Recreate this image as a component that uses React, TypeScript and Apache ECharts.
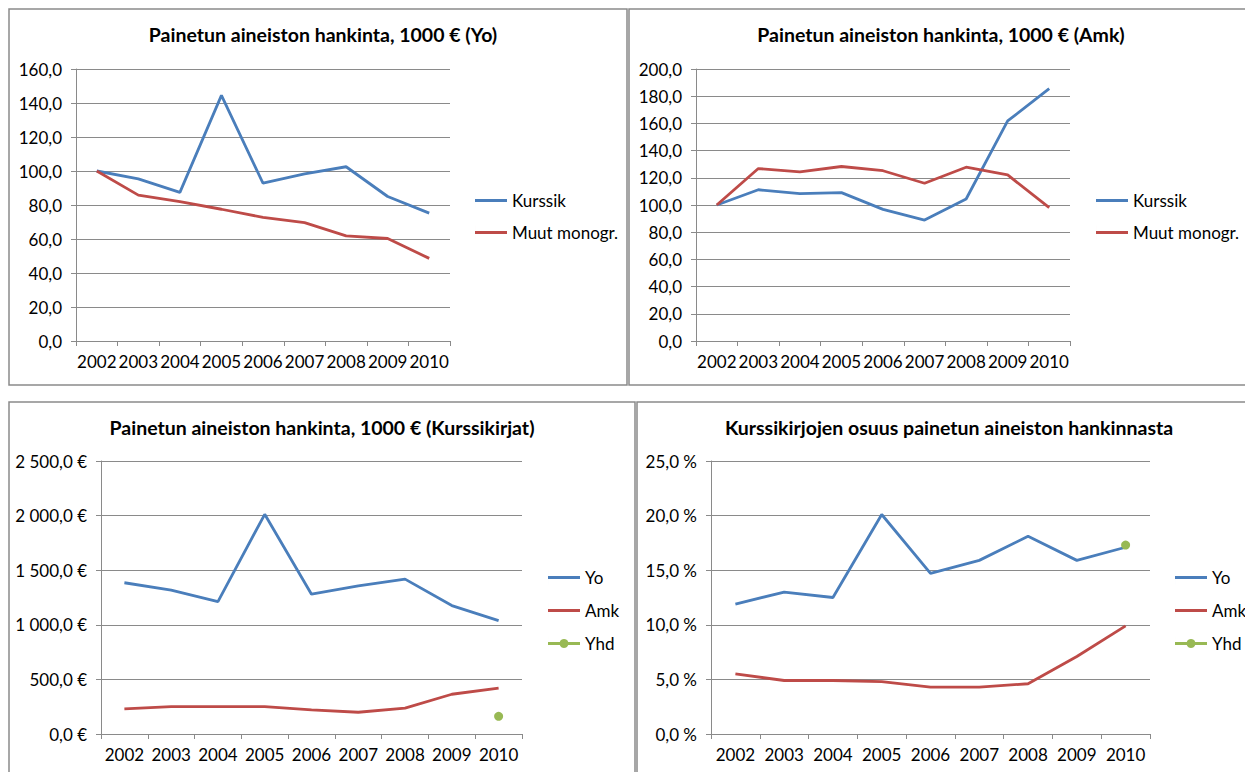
import React, { useEffect, useRef } from "react";
import * as echarts from "echarts";

const years = ["2002", "2003", "2004", "2005", "2006", "2007", "2008", "2009", "2010"];

const yoKurssik = [100, 95.4, 87.4, 144.5, 92.8, 98.3, 102.5, 85.0, 75.2];
const yoMuut = [100, 85.8, 82.0, 77.5, 72.7, 69.6, 61.8, 60.3, 48.6];

const amkKurssik = [100, 111.2, 108.3, 109.1, 96.8, 88.9, 104.4, 161.8, 185.6];
const amkMuut = [100, 126.8, 124.3, 128.3, 125.2, 116.0, 127.8, 122.1, 98.0];

const kkYo = [1385, 1318, 1213, 2012, 1280, 1356, 1418, 1176, 1038];
const kkAmk = [230, 250, 250, 250, 221, 199, 237, 364, 420];
const kkYhd = [null, null, null, null, null, null, null, null, 162];

const osYo = [11.9, 13.0, 12.5, 20.1, 14.7, 15.9, 18.1, 15.9, 17.1];
const osAmk = [5.5, 4.9, 4.9, 4.8, 4.3, 4.3, 4.6, 7.1, 9.9];
const osYhd = [null, null, null, null, null, null, null, null, 17.3];

const titles = [
  "Painetun aineiston hankinta, 1000 € (Yo)",
  "Painetun aineiston hankinta, 1000 € (Amk)",
  "Painetun aineiston hankinta, 1000 € (Kurssikirjat)",
  "Kurssikirjojen osuus painetun aineiston hankinnasta",
];

const BLUE = "#4a7ebb";
const RED = "#be4b48";
const GREEN = "#98b954";
const GRID = "#8a8a8a";
const FONT = "Lato";

const LINE_ICON = "path://M0,5.5 H32 V8.5 H0 Z M0,0 H0.01 V14 H0 Z";
const DOT_ICON =
  "path://M0,5.5 H11.8 A4.5,4.5 0 0,1 20.2,5.5 H32 V8.5 H20.2 A4.5,4.5 0 0,1 11.8,8.5 H0 Z M0,0 H0.01 V14 H0 Z";

const fmt1 = (v: number) => v.toFixed(1).replace(".", ",");
const fmtEur = (v: number) => {
  const s = v.toFixed(1);
  const [i, d] = s.split(".");
  const ii = i.replace(/\B(?=(\d{3})+(?!\d))/g, " ");
  return ii + "," + d + " €";
};
const fmtPct = (v: number) => v.toFixed(1).replace(".", ",") + " %";

export default function App() {
  const ref = useRef<HTMLDivElement>(null);
  useEffect(() => {
    if (!ref.current) return;
    const chart = echarts.init(ref.current, null, { renderer: "svg" });

    const grids = [
      { left: 76, top: 69, width: 374, height: 272 },
      { left: 696, top: 69, width: 374, height: 272 },
      { left: 101, top: 461, width: 421, height: 273 },
      { left: 711, top: 461, width: 439, height: 273 },
    ];
    const yCfg = [
      { max: 160, interval: 20, fmt: fmt1 },
      { max: 200, interval: 20, fmt: fmt1 },
      { max: 2500, interval: 500, fmt: fmtEur },
      { max: 25, interval: 5, fmt: fmtPct },
    ];

    const xAxis = grids.map((_, i) => ({
      type: "category",
      gridIndex: i,
      data: years,
      boundaryGap: true,
      axisLine: { lineStyle: { color: GRID, width: 1 } },
      axisTick: { show: true, length: 5, lineStyle: { color: GRID } },
      axisLabel: { color: "#000", fontFamily: FONT, fontSize: 17, margin: 12, interval: 0 },
    }));
    const yAxis = yCfg.map((c, i) => ({
      type: "value",
      gridIndex: i,
      min: 0,
      max: c.max,
      interval: c.interval,
      axisLine: { show: true, lineStyle: { color: GRID, width: 1 } },
      axisTick: { show: true, length: 5, lineStyle: { color: GRID } },
      splitLine: { show: true, lineStyle: { color: GRID, width: 1 } },
      axisLabel: {
        color: "#000",
        fontFamily: FONT,
        fontSize: 17,
        margin: 14,
        formatter: (v: number) => c.fmt(v),
      },
    }));

    const line = (name: string, data: any[], color: string, idx: number) => ({
      type: "line",
      name,
      data,
      xAxisIndex: idx,
      yAxisIndex: idx,
      symbol: "none",
      lineStyle: { color, width: 2.8 },
      itemStyle: { color },
    });
    const dot = (name: string, data: any[], idx: number) => ({
      type: "line",
      name,
      data,
      xAxisIndex: idx,
      yAxisIndex: idx,
      symbol: "circle",
      symbolSize: 9,
      showSymbol: true,
      lineStyle: { color: GREEN, width: 2.8 },
      itemStyle: { color: GREEN },
    });

    const series = [
      line("Kurssik", yoKurssik, BLUE, 0),
      line("Muut monogr.", yoMuut, RED, 0),
      line("Kurssik", amkKurssik, BLUE, 1),
      line("Muut monogr.", amkMuut, RED, 1),
      line("Yo", kkYo, BLUE, 2),
      line("Amk", kkAmk, RED, 2),
      dot("Yhd", kkYhd, 2),
      line("Yo", osYo, BLUE, 3),
      line("Amk", osAmk, RED, 3),
      dot("Yhd", osYhd, 3),
    ];

    const legendBase = {
      orient: "vertical",
      itemWidth: 32,
      itemHeight: 14,
      itemGap: 15,
      padding: 0,
      selectedMode: false,
      textStyle: { color: "#000", fontFamily: FONT, fontSize: 17 },
    };
    const li = (name: string) => ({ name, icon: LINE_ICON });
    const di = (name: string) => ({ name, icon: DOT_ICON });
    const legend = [
      { ...legendBase, left: 475, top: 192, data: [li("Kurssik"), li("Muut monogr.")] },
      { ...legendBase, left: 1096, top: 192, data: [li("Kurssik"), li("Muut monogr.")] },
      { ...legendBase, left: 548, top: 569, itemGap: 16, data: [li("Yo"), li("Amk"), di("Yhd")] },
      { ...legendBase, left: 1175, top: 569, itemGap: 16, data: [li("Yo"), li("Amk"), di("Yhd")] },
    ];

    const titleCenters = [
      [323, 24],
      [941, 24],
      [322, 417],
      [949, 417],
    ];
    const title = titles.map((t, i) => ({
      text: t,
      left: titleCenters[i][0],
      top: titleCenters[i][1],
      textAlign: "center",
      padding: 0,
      textStyle: { fontFamily: FONT, fontSize: 19.5, fontWeight: "bold", color: "#000" },
    }));

    const borderStyle = { fill: "none", stroke: "#8a8a8a", lineWidth: 1.5 };
    const graphic = [
      { type: "rect", shape: { x: 9, y: 9, width: 618, height: 376 }, style: borderStyle, silent: true },
      { type: "rect", shape: { x: 629, y: 9, width: 630, height: 376 }, style: borderStyle, silent: true },
      { type: "rect", shape: { x: 9, y: 402, width: 626, height: 400 }, style: borderStyle, silent: true },
      { type: "rect", shape: { x: 637, y: 402, width: 630, height: 400 }, style: borderStyle, silent: true },
    ];

    chart.setOption({
      animation: false,
      backgroundColor: "#fff",
      title,
      legend,
      grid: grids,
      xAxis,
      yAxis,
      series,
      graphic,
    } as any);

    return () => chart.dispose();
  }, []);

  return (
    <div
      ref={ref}
      style={{ position: "absolute", left: 0, top: 0, width: 1245, height: 772 }}
    />
  );
}
